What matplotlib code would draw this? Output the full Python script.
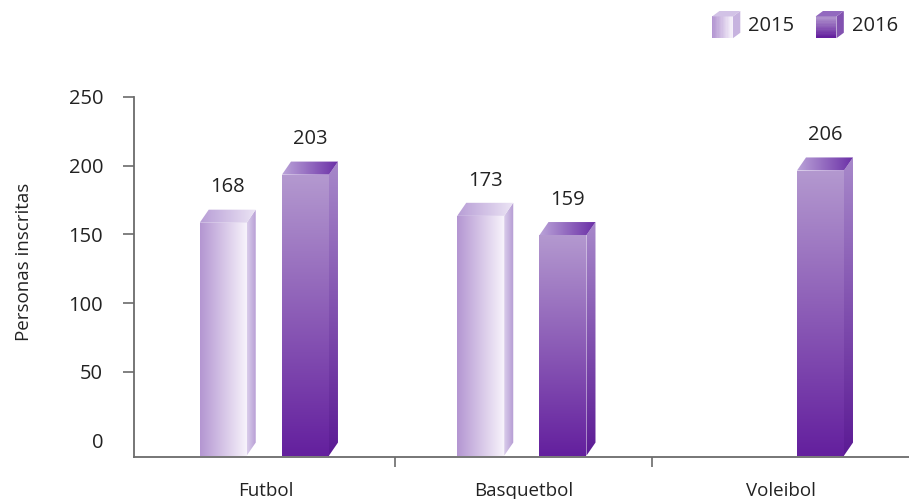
"""Inscritos por deporte 2015 vs 2016 - barras pseudo 3D con degradado."""

import numpy as np
import matplotlib.pyplot as plt
from matplotlib.colors import to_rgb
from matplotlib.patches import Polygon, Rectangle, Patch
from matplotlib.legend_handler import HandlerBase

# ---- data ----
categories = ["Futbol", "Basquetbol", "Voleibol"]
years = ["2015", "2016"]
inscritos_2015 = [168, 173, np.nan]
inscritos_2016 = [203, 159, 206]
y_ticks = [0, 50, 100, 150, 200, 250]
y_label = "Personas inscritas"

plt.rcParams["font.family"] = ["Open Sans", "DejaVu Sans"]
TXT = "#222222"
AX_COL = "#6b6b6b"
FS = 13.5       # words
FS_NUM = 14.5   # numbers (reference digits run wider)

# face colours: (start, end, direction)
STYLE = {
    "2015": {"front": ("#b496d2", "#f7f3fb", "h"),
             "side": ("#dacdeb", "#b49ad3", "h"),
             "top": ("#b89ed6", "#ece5f5", "h")},
    "2016": {"front": ("#b398cf", "#64209e", "v"),
             "side": ("#a788ca", "#5c1b95", "v"),
             "top": ("#baa3d8", "#6a2ea6", "h")},
}

BAR_W = 0.1825      # front face width (category units)
DX = 0.035          # depth, x
DY = 9.5            # depth, y (value units)
OFFSETS = {"2015": -0.2574, "2016": 0.062}
Y_MIN = -12


def _ramp(c0, c1, n=64):
    a, b = np.array(to_rgb(c0)), np.array(to_rgb(c1))
    t = np.linspace(0, 1, n)[:, None]
    return a + (b - a) * t


def grad_face(ax, verts, c0, c1, direction):
    verts = np.asarray(verts, dtype=float)
    xs, ys = verts[:, 0], verts[:, 1]
    ramp = _ramp(c0, c1)
    if direction == "h":
        img = ramp[None, :, :]
    else:
        img = ramp[::-1][:, None, :]   # c0 at top
    im = ax.imshow(img, extent=[xs.min(), xs.max(), ys.min(), ys.max()],
                   origin="lower", aspect="auto", interpolation="bilinear", zorder=2)
    clip = Polygon(verts, closed=True, transform=ax.transData)
    im.set_clip_path(clip)
    return im


def draw_bar(ax, x0, v, style):
    x1 = x0 + BAR_W
    lo = Y_MIN + 1
    front = [(x0, lo), (x1, lo), (x1, v - DY), (x0, v - DY)]
    side = [(x1, lo), (x1 + DX, lo + DY), (x1 + DX, v), (x1, v - DY)]
    top = [(x0, v - DY), (x1, v - DY), (x1 + DX, v), (x0 + DX, v)]
    grad_face(ax, front, *style["front"])
    grad_face(ax, side, *style["side"])
    grad_face(ax, top, *style["top"])


class CubeHandler(HandlerBase):
    def __init__(self, style):
        super().__init__()
        self.style = style

    def create_artists(self, legend, orig_handle, xdescent, ydescent,
                       width, height, fontsize, trans):
        x0, y0 = -xdescent, -ydescent
        dx = width * 0.26
        dy = height * 0.2
        fw, fh = width - dx, height - dy
        arts = []
        n = 16
        c0, c1, d = self.style["front"]
        cols = _ramp(c0, c1, n)
        for k in range(n):
            if d == "h":
                r = Rectangle((x0 + fw * k / n, y0), fw / n + 0.3, fh, color=cols[k], lw=0)
            else:
                r = Rectangle((x0, y0 + fh * (1 - (k + 1) / n)), fw, fh / n + 0.3,
                              color=cols[k], lw=0)
            arts.append(r)
        s0, s1, _ = self.style["side"]
        arts.append(Polygon([(x0 + fw, y0), (x0 + width, y0 + dy), (x0 + width, y0 + height),
                             (x0 + fw, y0 + fh)], closed=True, color=_ramp(s0, s1, 3)[1], lw=0))
        t0, t1, _ = self.style["top"]
        arts.append(Polygon([(x0, y0 + fh), (x0 + fw, y0 + fh), (x0 + width, y0 + height),
                             (x0 + dx, y0 + height)], closed=True, color=_ramp(t0, t1, 3)[1], lw=0))
        for a in arts:
            a.set_transform(trans)
        return arts


fig = plt.figure(figsize=(9.09, 4.99), dpi=100)
ax = fig.add_axes([134 / 909, 42 / 499, 775 / 909, 360 / 499])

xpos = np.arange(len(categories))
series = {"2015": inscritos_2015, "2016": inscritos_2016}
for yr in years:
    for i, v in enumerate(series[yr]):
        if np.isnan(v):
            continue
        x0 = xpos[i] + OFFSETS[yr]
        draw_bar(ax, x0, v, STYLE[yr])
        ax.annotate(f"{v:g}", xy=(x0 + (BAR_W + DX) / 2, v), xytext=(0, 16),
                    textcoords="offset points", ha="center", va="center",
                    fontsize=FS_NUM, color=TXT)

ax.set_xlim(-0.5126, 2.497)
ax.set_ylim(Y_MIN, 250)

for s in ("top", "right"):
    ax.spines[s].set_visible(False)
for s in ("left", "bottom"):
    ax.spines[s].set_color(AX_COL)
    ax.spines[s].set_linewidth(1.3)

ax.set_yticks(y_ticks)
ax.set_yticklabels([str(t) for t in y_ticks])
ax.tick_params(axis="y", length=7.9, width=1.2, color=AX_COL, pad=14.4,
               labelsize=FS_NUM, labelcolor=TXT)
ax.yaxis.get_major_ticks()[0].tick1line.set_visible(False)

ax.set_xticks(xpos[:-1] + 0.5)
ax.set_xticklabels([])
ax.tick_params(axis="x", which="major", length=7.2, width=1.2, color=AX_COL)
ax.set_xticks(xpos, minor=True)
ax.set_xticklabels(categories, minor=True)
ax.tick_params(axis="x", which="minor", length=0, pad=18, labelsize=FS, labelcolor=TXT)

ax.set_ylabel(y_label, fontsize=FS, color=TXT)
ax.yaxis.set_label_coords(-0.130, 0.542)

handles = [Patch(label=yr) for yr in years]
fig.legend(handles=handles, labels=years, loc="upper right",
           bbox_to_anchor=(898 / 909, 1 - 11 / 499), ncol=2, frameon=False,
           prop={"size": FS_NUM}, labelcolor=TXT, borderpad=0, borderaxespad=0,
           handlelength=1.4, handleheight=1.7, handletextpad=0.4,
           columnspacing=1.05,
           handler_map={h: CubeHandler(STYLE[h.get_label()]) for h in handles})

fig.savefig("out.png", dpi=100)
